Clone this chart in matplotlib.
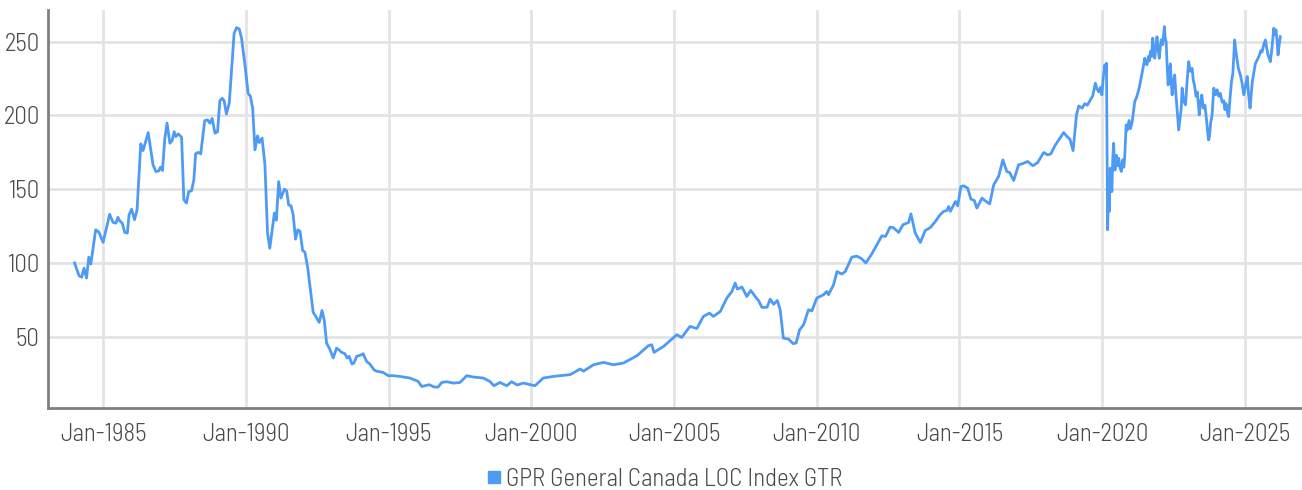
import matplotlib
matplotlib.use("Agg")
import matplotlib.pyplot as plt

plt.rcParams['font.family'] = ['Barlow Semi Condensed', 'DejaVu Sans']
plt.rcParams['font.weight'] = 300

LINE_COLOR = "#4d9bf5"
TEXT_COLOR = "#4a4a4a"
GRID_COLOR = "#e3e3e3"

# data (decimal year, index level)
years = [
    1984.00, 1984.16, 1984.25, 1984.33, 1984.42, 1984.50, 1984.57, 1984.74, 1984.85, 1985.00,
    1985.23, 1985.35, 1985.45, 1985.52, 1985.59, 1985.67, 1985.76, 1985.85, 1985.91, 1986.00,
    1986.10, 1986.19, 1986.32, 1986.40, 1986.58, 1986.75, 1986.85, 1986.95, 1987.01, 1987.08,
    1987.16, 1987.24, 1987.34, 1987.42, 1987.49, 1987.55, 1987.63, 1987.75, 1987.83, 1987.92,
    1988.00, 1988.10, 1988.18, 1988.24, 1988.33, 1988.42, 1988.56, 1988.66, 1988.74, 1988.82,
    1988.92, 1989.01, 1989.09, 1989.17, 1989.24, 1989.32, 1989.42, 1989.59, 1989.68, 1989.77,
    1989.85, 1989.97, 1990.08, 1990.16, 1990.24, 1990.32, 1990.41, 1990.47, 1990.57, 1990.67,
    1990.76, 1990.84, 1991.00, 1991.07, 1991.15, 1991.23, 1991.35, 1991.43, 1991.50, 1991.58,
    1991.66, 1991.74, 1991.82, 1991.90, 1991.99, 1992.07, 1992.17, 1992.25, 1992.36, 1992.45,
    1992.57, 1992.67, 1992.75, 1992.83, 1992.95, 1993.06, 1993.18, 1993.27, 1993.35, 1993.47,
    1993.55, 1993.62, 1993.72, 1993.79, 1993.88, 1994.06, 1994.11, 1994.23, 1994.35, 1994.49,
    1994.58, 1994.81, 1994.99, 1995.16, 1995.40, 1995.52, 1995.75, 1996.04, 1996.16, 1996.28,
    1996.43, 1996.60, 1996.74, 1996.86, 1997.04, 1997.27, 1997.50, 1997.74, 1997.97, 1998.32,
    1998.55, 1998.69, 1998.90, 1999.14, 1999.31, 1999.51, 1999.72, 2000.13, 2000.42, 2000.77,
    2001.00, 2001.36, 2001.71, 2001.83, 2002.18, 2002.53, 2002.88, 2003.23, 2003.70, 2004.10,
    2004.22, 2004.30, 2004.63, 2005.10, 2005.27, 2005.56, 2005.80, 2006.03, 2006.24, 2006.38,
    2006.62, 2006.85, 2007.03, 2007.14, 2007.22, 2007.38, 2007.55, 2007.69, 2007.85, 2007.96,
    2008.08, 2008.26, 2008.37, 2008.49, 2008.62, 2008.72, 2008.83, 2009.01, 2009.18, 2009.28,
    2009.40, 2009.54, 2009.71, 2009.83, 2010.00, 2010.24, 2010.35, 2010.41, 2010.59, 2010.71,
    2010.88, 2011.00, 2011.23, 2011.41, 2011.58, 2011.72, 2011.93, 2012.17, 2012.28, 2012.41,
    2012.57, 2012.68, 2012.87, 2013.02, 2013.22, 2013.30, 2013.45, 2013.63, 2013.80, 2013.98,
    2014.15, 2014.32, 2014.44, 2014.56, 2014.62, 2014.68, 2014.86, 2014.94, 2015.05, 2015.15,
    2015.29, 2015.40, 2015.52, 2015.61, 2015.79, 2015.90, 2016.06, 2016.20, 2016.37, 2016.52,
    2016.66, 2016.76, 2016.90, 2017.07, 2017.19, 2017.39, 2017.57, 2017.74, 2017.95, 2018.09,
    2018.20, 2018.36, 2018.65, 2018.77, 2018.87, 2018.98, 2019.10, 2019.18, 2019.30, 2019.39,
    2019.48, 2019.67, 2019.76, 2019.82, 2019.88, 2019.94, 2019.99, 2020.04, 2020.09, 2020.12,
    2020.15, 2020.19, 2020.22, 2020.25, 2020.28, 2020.31, 2020.34, 2020.37, 2020.40, 2020.43,
    2020.45, 2020.50, 2020.54, 2020.58, 2020.62, 2020.67, 2020.72, 2020.76, 2020.79, 2020.84,
    2020.88, 2020.94, 2020.99, 2021.05, 2021.10, 2021.14, 2021.20, 2021.26, 2021.30, 2021.34,
    2021.40, 2021.45, 2021.49, 2021.53, 2021.57, 2021.62, 2021.65, 2021.69, 2021.73, 2021.77,
    2021.80, 2021.84, 2021.88, 2021.92, 2021.96, 2022.00, 2022.04, 2022.07, 2022.12, 2022.18,
    2022.21, 2022.24, 2022.27, 2022.31, 2022.35, 2022.39, 2022.42, 2022.45, 2022.50, 2022.54,
    2022.58, 2022.62, 2022.65, 2022.68, 2022.72, 2022.77, 2022.80, 2022.85, 2022.92, 2022.97,
    2023.03, 2023.08, 2023.15, 2023.19, 2023.23, 2023.29, 2023.33, 2023.37, 2023.40, 2023.44,
    2023.49, 2023.54, 2023.60, 2023.65, 2023.70, 2023.73, 2023.76, 2023.80, 2023.85, 2023.91,
    2023.97, 2024.03, 2024.08, 2024.14, 2024.20, 2024.26, 2024.30, 2024.34, 2024.40, 2024.43,
    2024.48, 2024.53, 2024.58, 2024.64, 2024.68, 2024.72, 2024.77, 2024.84, 2024.90, 2024.96,
    2025.02, 2025.08, 2025.13, 2025.18, 2025.22, 2025.26, 2025.32, 2025.37, 2025.44, 2025.51,
    2025.56, 2025.60, 2025.66, 2025.72, 2025.77, 2025.81, 2025.85, 2025.89, 2025.95, 2026.01,
    2026.05, 2026.09, 2026.13, 2026.16, 2026.20, 2026.24,
]
values = [
    100.0, 91.3, 90.4, 96.5, 89.8, 104.0, 99.3, 122.5, 121.0, 114.0,
    133.0, 127.5, 127.0, 131.0, 128.4, 127.0, 120.7, 120.3, 132.7, 136.5,
    129.3, 136.0, 180.8, 176.2, 188.4, 166.5, 162.0, 162.4, 165.0, 162.7,
    184.0, 194.8, 181.2, 183.0, 189.0, 185.7, 187.5, 185.3, 142.8, 140.6,
    148.4, 149.0, 156.4, 174.0, 175.0, 174.0, 196.5, 197.0, 194.8, 198.0,
    188.0, 189.0, 210.0, 211.7, 210.0, 201.0, 208.3, 255.7, 259.6, 258.6,
    252.4, 234.3, 215.0, 213.0, 205.0, 176.7, 186.2, 181.6, 184.6, 166.5,
    120.3, 110.0, 133.8, 129.0, 155.2, 144.0, 150.0, 149.0, 139.4, 138.8,
    132.6, 116.2, 122.5, 121.4, 108.5, 107.3, 96.5, 84.0, 66.5, 63.8,
    59.7, 67.8, 61.0, 45.7, 41.2, 35.6, 42.3, 41.0, 39.5, 38.5,
    35.6, 36.7, 31.5, 32.2, 36.7, 37.8, 38.5, 33.3, 31.4, 27.6,
    26.7, 25.8, 23.6, 23.6, 23.1, 22.7, 22.0, 19.7, 16.3, 16.8,
    17.5, 15.9, 15.9, 19.0, 19.5, 18.6, 19.0, 23.6, 22.7, 22.0,
    19.7, 16.8, 19.0, 16.8, 19.5, 17.3, 18.6, 16.8, 22.0, 23.1,
    23.6, 24.3, 28.1, 26.7, 31.0, 32.6, 31.0, 32.2, 37.1, 43.9,
    44.6, 39.4, 43.4, 51.4, 49.5, 57.0, 55.6, 63.8, 66.0, 63.8,
    67.1, 76.2, 80.7, 86.4, 82.3, 83.7, 77.3, 81.4, 77.1, 74.6,
    69.9, 70.0, 75.5, 72.0, 74.6, 68.3, 49.1, 48.4, 45.3, 45.8,
    54.7, 58.1, 68.3, 67.5, 76.2, 78.5, 80.7, 78.5, 85.2, 94.2,
    92.5, 94.2, 104.0, 104.6, 102.8, 100.0, 106.2, 114.6, 118.4, 118.0,
    124.3, 124.0, 120.7, 125.9, 127.5, 133.3, 120.3, 113.9, 122.0, 124.0,
    128.0, 132.7, 134.9, 135.6, 138.3, 135.0, 141.7, 138.8, 151.8, 152.3,
    150.7, 143.3, 142.4, 137.2, 144.0, 142.2, 140.1, 153.0, 158.6, 169.9,
    162.0, 161.3, 155.9, 166.5, 167.2, 168.8, 165.9, 168.1, 174.9, 173.3,
    174.0, 180.0, 188.4, 185.7, 184.0, 176.2, 200.4, 206.5, 205.0, 208.0,
    207.0, 213.3, 221.9, 218.0, 216.0, 219.0, 214.0, 226.0, 234.3, 229.0,
    235.4, 122.5, 150.0, 135.0, 164.3, 158.0, 148.4, 170.0, 181.2, 168.0,
    163.0, 173.0, 166.0, 171.0, 165.0, 162.0, 170.0, 165.0, 172.2, 193.6,
    190.0, 196.6, 191.0, 195.5, 203.0, 209.4, 212.0, 216.0, 219.0, 223.0,
    229.0, 234.0, 238.8, 235.0, 234.4, 240.0, 237.0, 243.3, 240.0, 252.4,
    244.0, 238.8, 246.0, 253.4, 245.0, 238.8, 247.0, 251.3, 248.0, 260.2,
    252.0, 250.0, 236.0, 220.7, 230.0, 235.0, 222.0, 214.0, 224.0, 227.5,
    215.0, 204.9, 198.0, 190.2, 197.0, 204.9, 218.5, 210.0, 207.2, 222.0,
    236.5, 230.0, 232.0, 224.0, 220.7, 213.0, 216.0, 208.0, 200.4, 208.0,
    213.9, 205.0, 207.0, 198.0, 188.0, 183.4, 186.0, 195.0, 200.4, 218.5,
    214.0, 217.4, 213.0, 215.0, 209.0, 210.0, 204.0, 208.0, 201.0, 199.3,
    212.0, 223.0, 229.0, 251.2, 244.0, 238.8, 232.0, 227.5, 222.0, 214.0,
    220.0, 226.4, 214.0, 205.0, 214.0, 222.9, 230.0, 235.4, 238.0, 241.0,
    244.0, 243.0, 248.0, 251.2, 245.0, 241.0, 239.0, 236.5, 246.0, 259.1,
    255.0, 258.0, 250.0, 241.0, 248.0, 253.4,
]

tick_years = [1985, 1990, 1995, 2000, 2005, 2010, 2015, 2020, 2025]
tick_labels = ["Jan-%d" % y for y in tick_years]
y_ticks = [50, 100, 150, 200, 250]
series_name = "GPR General Canada LOC Index GTR"

fig = plt.figure(figsize=(13.02, 4.9), dpi=100)
ax = fig.add_axes([48 / 1302, 1 - 408 / 490, 1 - 48 / 1302, 398 / 490])

ax.plot(years, values, color=LINE_COLOR, linewidth=2.0, solid_joinstyle="round",
        label=series_name, zorder=3)

ax.set_xlim(1983.07, 2027.0)
ax.set_ylim(1.7, 271.5)
ax.set_xticks(tick_years)
ax.set_xticklabels(tick_labels)
ax.set_yticks(y_ticks)

ax.grid(True, color=GRID_COLOR, linewidth=2.0, zorder=0)
ax.set_axisbelow(True)

for side in ["top", "right"]:
    ax.spines[side].set_visible(False)
for side in ["left", "bottom"]:
    ax.spines[side].set_color("#808080")
    ax.spines[side].set_linewidth(2.0)

ax.tick_params(axis="x", length=0, pad=11, labelsize=18, labelcolor=TEXT_COLOR)
ax.tick_params(axis="y", length=0, pad=6, labelsize=18, labelcolor=TEXT_COLOR)

leg = fig.legend(handles=ax.get_lines(), loc="center", bbox_to_anchor=(0.511, 1 - 479 / 490),
                 frameon=False, fontsize=18, handlelength=0.45, handletextpad=0.25,
                 labelcolor=TEXT_COLOR)
# square marker in the legend instead of a line
for h in leg.legend_handles:
    h.set_linewidth(0)
    h.set_marker("s")
    h.set_markersize(8)
    h.set_markerfacecolor(LINE_COLOR)
    h.set_markeredgecolor(LINE_COLOR)

fig.savefig("out.png", dpi=100)
